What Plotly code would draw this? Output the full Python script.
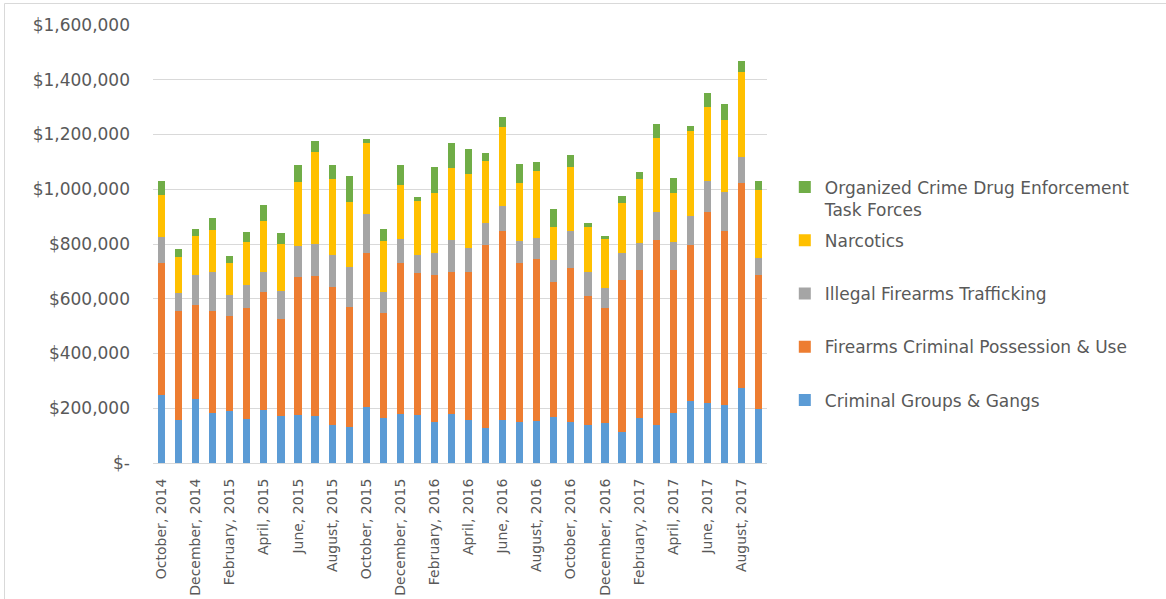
import plotly.graph_objects as go

# Monthly funding by program, October 2014 - September 2017
months = [
    "October, 2014", "November, 2014", "December, 2014",
    "January, 2015", "February, 2015", "March, 2015", "April, 2015",
    "May, 2015", "June, 2015", "July, 2015", "August, 2015",
    "September, 2015", "October, 2015", "November, 2015", "December, 2015",
    "January, 2016", "February, 2016", "March, 2016", "April, 2016",
    "May, 2016", "June, 2016", "July, 2016", "August, 2016",
    "September, 2016", "October, 2016", "November, 2016", "December, 2016",
    "January, 2017", "February, 2017", "March, 2017", "April, 2017",
    "May, 2017", "June, 2017", "July, 2017", "August, 2017",
    "September, 2017",
]

gangs = [248000, 157000, 232000, 181000, 190000, 160000, 194000, 173000,
         175000, 173000, 139000, 133000, 206000, 163000, 180000, 175000,
         151000, 180000, 157000, 127000, 157000, 151000, 153000, 169000,
         151000, 139000, 146000, 113000, 163000, 139000, 183000, 226000,
         219000, 212000, 274000, 197000]

possession = [481000, 398000, 344000, 374000, 347000, 407000, 429000, 353000,
              504000, 511000, 504000, 436000, 561000, 385000, 551000, 518000,
              536000, 518000, 541000, 669000, 690000, 580000, 593000, 491000,
              563000, 471000, 421000, 557000, 543000, 677000, 523000, 570000,
              698000, 634000, 749000, 490000]

trafficking = [97000, 65000, 111000, 144000, 77000, 83000, 73000, 102000,
               114000, 116000, 117000, 147000, 143000, 75000, 88000, 67000,
               80000, 117000, 89000, 81000, 93000, 80000, 75000, 80000,
               133000, 88000, 73000, 98000, 98000, 101000, 100000, 108000,
               113000, 144000, 94000, 63000]

narcotics = [153000, 132000, 142000, 151000, 115000, 156000, 189000, 172000,
             233000, 336000, 277000, 237000, 260000, 188000, 198000, 197000,
             219000, 261000, 270000, 226000, 289000, 213000, 247000, 123000,
             233000, 164000, 178000, 182000, 232000, 270000, 180000, 309000,
             270000, 264000, 310000, 247000]

ocdetf = [51000, 28000, 27000, 46000, 27000, 37000, 57000, 39000,
          61000, 40000, 53000, 97000, 14000, 45000, 70000, 13000,
          97000, 94000, 90000, 31000, 36000, 67000, 32000, 64000,
          44000, 15000, 12000, 24000, 27000, 50000, 55000, 17000,
          53000, 56000, 40000, 33000]

series = [
    ("Criminal Groups & Gangs", gangs, "#5B9BD5"),
    ("Firearms Criminal Possession & Use", possession, "#ED7D31"),
    ("Illegal Firearms Trafficking", trafficking, "#A5A5A5"),
    ("Narcotics", narcotics, "#FFC000"),
    ("Organized Crime Drug Enforcement<br>Task Forces", ocdetf, "#70AD47"),
]

y_ticks = [0, 200000, 400000, 600000, 800000, 1000000, 1200000, 1400000, 1600000]
y_tick_text = ["$-", "$200,000", "$400,000", "$600,000", "$800,000",
               "$1,000,000", "$1,200,000", "$1,400,000", "$1,600,000"]

fig = go.Figure()
n = len(series)
for i, (name, vals, color) in enumerate(series):
    # single-line names get a blank second line so every legend row is equal
    label = name if "<br>" in name else name + "<br> "
    fig.add_trace(go.Bar(
        x=months, y=vals, name=label,
        marker=dict(color=color, line=dict(width=0)),
        legendgroup=f"g{i}",
        legendrank=n - i,  # top of the stack first in the legend
    ))

text_color = "#595959"
fig.update_layout(
    width=1166, height=599,
    barmode="stack", bargap=0.58,
    plot_bgcolor="white", paper_bgcolor="white",
    margin=dict(l=153, r=399, t=25, b=136),
    font=dict(family="DejaVu Sans", color=text_color),
    xaxis=dict(
        type="category", automargin=False,
        tickvals=months[::2], ticktext=months[::2],
        tickangle=-90, tickfont=dict(size=14, color=text_color),
        showgrid=False, showline=True, linecolor="#D9D9D9", linewidth=1,
        ticks="", ticklabelstandoff=9,
    ),
    yaxis=dict(
        range=[0, 1600000], tickvals=y_ticks, ticktext=y_tick_text,
        automargin=False,
        tickfont=dict(size=17, color=text_color),
        showgrid=True, gridcolor="#D9D9D9", gridwidth=1,
        zeroline=False, ticks="", ticklabelstandoff=22,
    ),
    legend=dict(
        x=1.029, xanchor="left", y=0.67, yanchor="top",
        traceorder="grouped", tracegroupgap=6,
        valign="top",
        font=dict(size=17, color=text_color),
        bgcolor="rgba(0,0,0,0)",
    ),
    shapes=[dict(
        type="rect", xref="paper", yref="paper",
        x0=(4.5 - 153) / 614, x1=(1200 - 153) / 614,
        y0=(463 - 640) / 438, y1=(463 - 3.5) / 438,
        line=dict(color="#D9D9D9", width=1), layer="below",
    )],
)

fig.write_html("out.html")
